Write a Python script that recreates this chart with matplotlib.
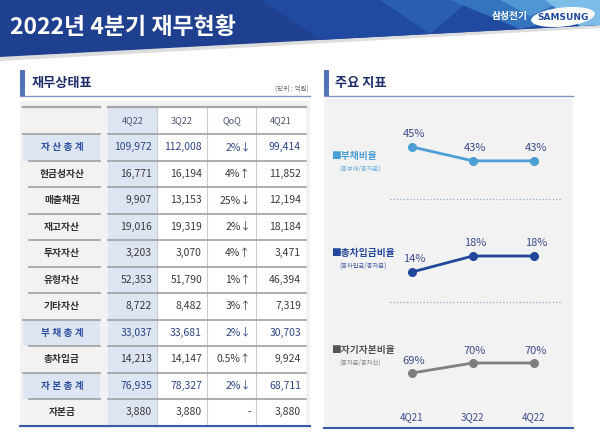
import matplotlib
matplotlib.use('Agg')
import matplotlib.pyplot as plt
from matplotlib.patches import Rectangle, Polygon, Ellipse

plt.rcParams['font.family'] = ['Noto Sans CJK KR', 'DejaVu Sans']

############################################################
# Data
############################################################

title = '2022년 4분기 재무현황'
columns = ['4Q22', '3Q22', 'QoQ', '4Q21']
row_names = ['자산총계', '현금성자산', '매출채권', '재고자산', '투자자산', '유형자산',
             '기타자산', '부채총계', '총차입금', '자본총계', '자본금']
total_rows = [0, 7, 9]
val_4q22 = [109972, 16771, 9907, 19016, 3203, 52353, 8722, 33037, 14213, 76935, 3880]
val_3q22 = [112008, 16194, 13153, 19319, 3070, 51790, 8482, 33681, 14147, 78327, 3880]
qoq = ['2%↓', '4%↑', '25%↓', '2%↓', '4%↑', '1%↑', '3%↑', '2%↓', '0.5%↑', '2%↓', '-']
val_4q21 = [99414, 11852, 12194, 18184, 3471, 46394, 7319, 30703, 9924, 68711, 3880]

quarters = ['4Q21', '3Q22', '4Q22']
debt_ratio = [45, 43, 43]
borrow_ratio = [14, 18, 18]
equity_ratio = [69, 70, 70]
ratio_names = ['■부채비율', '■총차입금비율', '■자기자본비율']
ratio_notes = ['(총부채/총자본)', '(총차입금/총자본)', '(총자본/총자산)']

############################################################
# Slide background
############################################################

W, H = 600, 434
fig = plt.figure(figsize=(6, 4.34), dpi=100)
bg = fig.add_axes([0, 0, 1, 1])
bg.set_xlim(0, W)
bg.set_ylim(H, 0)
bg.axis('off')

NAVY = '#1f3f8f'
bg.add_patch(Polygon([(0, 57), (600, 25), (600, 28), (0, 61)], color='#dddddd', lw=0))
bg.add_patch(Polygon([(0, 0), (600, 0), (600, 25), (0, 57)], color=NAVY, lw=0))
bg.add_patch(Polygon([(260, 0), (600, 0), (600, 25), (320, 39.9)], color='#2049a0', lw=0))
bg.add_patch(Polygon([(380, 0), (470, 0), (430, 34)], color='#2a5eb0', lw=0))
bg.add_patch(Polygon([(450, 0), (600, 0), (600, 12), (520, 29)], color='#3473bd', lw=0))
bg.add_patch(Polygon([(500, 0), (565, 0), (530, 16)], color='#4f96d3', lw=0))
bg.add_patch(Polygon([(545, 0), (600, 0), (600, 25), (580, 26)], color='#7dbde8', lw=0))
bg.text(10, 27, title, color='white', fontsize=16.5, fontweight='bold', va='center')
bg.text(492, 16, '삼성전기', color='white', fontsize=7, fontweight='bold', va='center')
bg.add_patch(Ellipse((563, 17), 64, 19, angle=-6, color='white', lw=0))
bg.text(563, 17, 'SAMSUNG', color='#1f4c9c', fontsize=6.5, fontweight='bold',
        ha='center', va='center', family='DejaVu Sans')

SUB_BAR = '#5074b6'
UNDER = '#8393c4'
# section headings
bg.add_patch(Rectangle((20, 70), 5, 26, color=SUB_BAR, lw=0))
bg.plot([20, 310], [95.5, 95.5], color=UNDER, lw=1)
bg.text(32, 83, '재무상태표', color='#1f2d6b', fontsize=9.5, fontweight='bold', va='center')
bg.text(309, 89, '(단위 : 억원)', color='#666666', fontsize=4.8, ha='right', va='center')

bg.add_patch(Rectangle((324, 70), 5, 26, color=SUB_BAR, lw=0))
bg.plot([324, 573], [95.5, 95.5], color=UNDER, lw=1)
bg.text(335, 83, '주요 지표', color='#1f2d6b', fontsize=9.5, fontweight='bold', va='center')

############################################################
# Balance sheet table
############################################################

bg.add_patch(Rectangle((20, 101), 290, 327, color='#f2f2f2', lw=0))
top, head_h, row_h = 107, 27, 26.5
col_l = [108, 157, 207, 256]
col_r = [157, 207, 256, 306]
bottom = top + head_h + row_h * len(row_names)

bg.add_patch(Rectangle((108, top), 198, bottom - top, color='white', lw=0))
bg.add_patch(Rectangle((108, top), 49, bottom - top, color='#dce5f1', lw=0))
for i in range(len(row_names)):
    y0 = top + head_h + i * row_h
    if i in total_rows:
        bg.add_patch(Rectangle((23, y0), 77, row_h, color='#dce5f1', lw=0))
for x in col_l[1:]:
    bg.plot([x, x], [top, bottom], color='#cccccc', lw=0.8)

bg.plot([23, 100], [top, top], color='#a6a6a6', lw=1.6)
bg.plot([108, 306], [top, top], color='#a6a6a6', lw=1.6)
for i in range(1, len(row_names)):
    y = top + head_h + i * row_h
    x0 = 23 if i in total_rows else 29
    bg.plot([x0, 100], [y, y], color='#a0a0a0', lw=1.2)
    bg.plot([108, 306], [y, y], color='#a0a0a0', lw=1.2)
y = top + head_h
bg.plot([23, 100], [y, y], color='#a0a0a0', lw=1.2)
bg.plot([108, 306], [y, y], color='#a0a0a0', lw=1.2)
bg.plot([20, 310], [bottom, bottom], color='#3a5aa8', lw=1.5)

for j, c in enumerate(columns):
    bg.text((col_l[j] + col_r[j]) / 2, top + head_h / 2, c, color='#4a5270',
            fontsize=6.5, ha='center', va='center')

for i, name in enumerate(row_names):
    yc = top + head_h + (i + 0.5) * row_h
    if i in total_rows:
        lab_color, num_color = '#2d4f9e', '#2c4585'
        label = ' '.join(name)
    else:
        lab_color, num_color = '#333333', '#3a3a3a'
        label = name
    bg.text(62, yc, label, color=lab_color, fontsize=7, fontweight='bold',
            ha='center', va='center')
    cells = [f'{val_4q22[i]:,}', f'{val_3q22[i]:,}', qoq[i], f'{val_4q21[i]:,}']
    for j, s in enumerate(cells):
        bg.text(col_r[j] - 5, yc, s, color=num_color, fontsize=7.5,
                ha='right', va='center')

############################################################
# Key ratios
############################################################

bg.add_patch(Rectangle((324, 99), 249, 329, color='#f2f2f2', lw=0))
bg.plot([324, 573], [428, 428], color='#3a5aa8', lw=1.5)
for y in [199, 302]:
    bg.plot([390, 561], [y, y], color='#9aa6c4', lw=0.9, ls=':')

LABEL = '#3d4b8c'
series = [debt_ratio, borrow_ratio, equity_ratio]
line_colors = ['#4b9fd5', '#22479a', '#7f7f7f']
name_colors = ['#4b9fd5', '#22479a', '#555555']
note_colors = ['#6aaee0', '#4a5fa8', '#888888']
ylims = [(38.1, 50.3), (8.25, 30.75), (66.3, 75.5)]
spans = [(110, 195), (205, 295), (308, 400)]
legend_y = [156, 253, 350]

charts = []
for k in range(3):
    y_top, y_bot = spans[k]
    ax = fig.add_axes([390 / W, 1 - y_bot / H, 170 / W, (y_bot - y_top) / H])
    ax.set_xlim(-0.36, 2.43)
    ax.set_ylim(*ylims[k])
    ax.axis('off')
    ax.plot(range(len(quarters)), series[k], color=line_colors[k], lw=2,
            marker='o', markersize=5.5)
    for i, v in enumerate(series[k]):
        ax.annotate(f'{v}%', (i, v), textcoords='offset points', xytext=(1.5, 9),
                    ha='center', va='center', color=LABEL, fontsize=8)
    charts.append(ax)
    bg.text(331, legend_y[k], ratio_names[k], color=name_colors[k], fontsize=7,
            fontweight='bold', va='center')
    bg.text(339, legend_y[k] + 13, ratio_notes[k], color=note_colors[k],
            fontsize=4.5, va='center')

for i, q in enumerate(quarters):
    charts[2].annotate(q, (i, 0), xycoords=('data', 'axes fraction'),
                       textcoords='offset points', xytext=(0, -12.5),
                       ha='center', va='center', color=LABEL, fontsize=7)

fig.savefig('out.png', dpi=100)
